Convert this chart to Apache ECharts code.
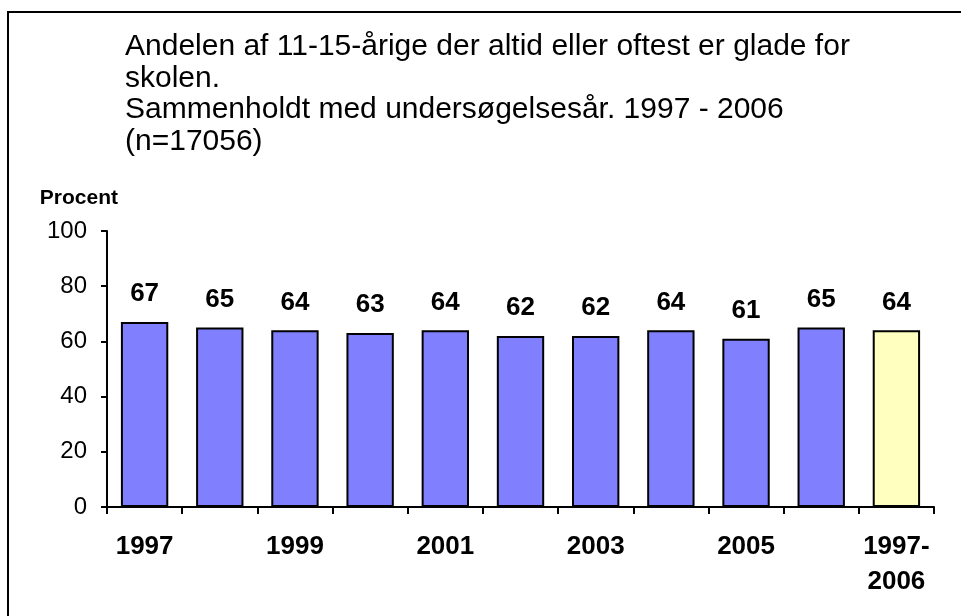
<!DOCTYPE html>
<html>
<head>
<meta charset="utf-8">
<script src="https://cdn.jsdelivr.net/npm/echarts@6/dist/echarts.min.js"></script>
<style>
  html, body { margin: 0; padding: 0; background: #fff; }
  #chart { width: 961px; height: 616px; }
</style>
</head>
<body>
<div id="chart"></div>
<script>
// data
const categories = ['1997', '1998', '1999', '2000', '2001', '2002', '2003', '2004', '2005', '2006', '1997-\n2006'];
const values = [67, 65, 64, 63, 64, 62, 62, 64, 61, 65, 64];
const yTicks = [0, 20, 40, 60, 80, 100];
const titleLines = [
    'Andelen af 11-15-årige der altid eller oftest er glade for',
    'skolen.',
    'Sammenholdt med undersøgelsesår. 1997 - 2006',
    '(n=17056)'
];

const font = '"Liberation Sans", Arial, sans-serif';

window.onload = function () {
    const myChart = echarts.init(document.getElementById('chart'));

    const barData = values.map(function (v, i) {
        return {
            value: v,
            itemStyle: { color: i === values.length - 1 ? '#ffffc0' : '#8080ff' }
        };
    });

    const option = {
        animation: false,
        textStyle: { fontFamily: font },
        title: {
            text: titleLines.join('\n'),
            left: 120,
            top: 26,
            textStyle: {
                fontFamily: font,
                fontWeight: 'normal',
                fontSize: 30,
                lineHeight: 31.5,
                color: '#000'
            }
        },
        graphic: [{
            type: 'rect',
            shape: { x: 8, y: 12, width: 980, height: 640 },
            style: { fill: 'none', stroke: '#000', lineWidth: 2 },
            silent: true
        }],
        grid: { left: 107, top: 231, right: 27, bottom: 109 },
        xAxis: {
            type: 'category',
            data: categories,
            axisLine: { lineStyle: { color: '#000', width: 2 } },
            axisTick: { show: true, alignWithLabel: false, interval: 0, length: 7, lineStyle: { color: '#000', width: 2 } },
            axisLabel: {
                interval: 1,
                color: '#000',
                fontWeight: 'bold',
                fontSize: 26,
                lineHeight: 35,
                margin: 22,
                fontFamily: font
            }
        },
        yAxis: {
            type: 'value',
            min: yTicks[0],
            max: yTicks[yTicks.length - 1],
            interval: 20,
            name: 'Procent',
            nameLocation: 'end',
            nameGap: 22,
            nameTextStyle: {
                fontWeight: 'bold',
                fontSize: 21,
                color: '#000',
                align: 'right',
                padding: [0, -11, 0, 0],
                fontFamily: font
            },
            axisLine: { show: true, lineStyle: { color: '#000', width: 2 } },
            axisTick: { show: true, length: 6, lineStyle: { color: '#000', width: 2 } },
            splitLine: { show: false },
            axisLabel: { color: '#000', fontSize: 24, margin: 20, fontFamily: font }
        },
        series: [{
            type: 'bar',
            data: barData,
            barCategoryGap: '37%',
            itemStyle: { borderColor: '#000', borderWidth: 2 },
            label: {
                show: true,
                position: 'top',
                distance: 15,
                color: '#000',
                fontWeight: 'bold',
                fontSize: 26,
                fontFamily: font
            }
        }]
    };

    myChart.setOption(option);
};
</script>
</body>
</html>
